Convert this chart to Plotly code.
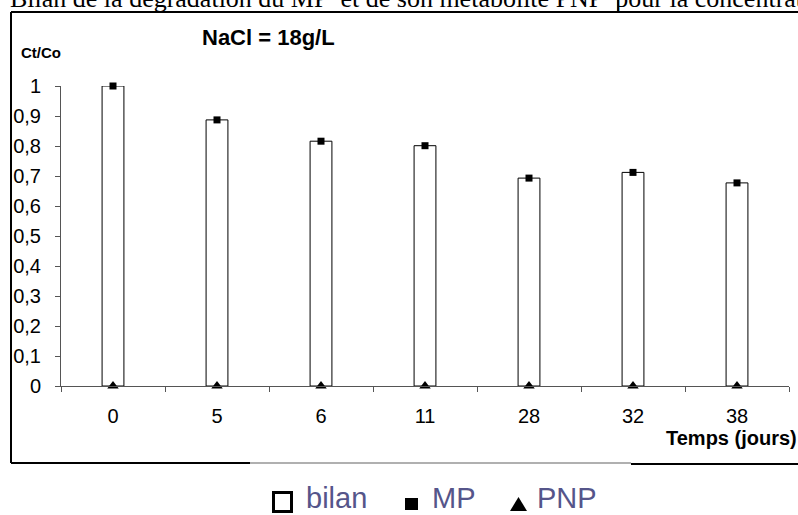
import plotly.graph_objects as go

# ---- data ----
temps = ["0", "5", "6", "11", "28", "32", "38"]
bilan = [1.0, 0.887, 0.816, 0.801, 0.693, 0.712, 0.677]
mp = [1.0, 0.887, 0.816, 0.801, 0.693, 0.712, 0.677]
pnp = [0, 0, 0, 0, 0, 0, 0]
y_ticks = [0, 0.1, 0.2, 0.3, 0.4, 0.5, 0.6, 0.7, 0.8, 0.9, 1]

W, H = 798, 515
L, R, T, B = 61, 9, 86, 129
PW, PH = W - L - R, H - T - B


def px(x):
    return (x - L) / PW


def py(y):
    return (H - B - y) / PH


fig = go.Figure()
fig.add_trace(go.Bar(
    x=temps, y=bilan, name="bilan", width=0.21,
    marker=dict(color="white", line=dict(color="black", width=1)),
    showlegend=False,
))
fig.add_trace(go.Scatter(
    x=temps, y=mp, name="MP", mode="markers",
    marker=dict(symbol="square", size=7, color="black"),
    cliponaxis=False, showlegend=False,
))
fig.add_trace(go.Scatter(
    x=temps, y=pnp, name="PNP", mode="markers",
    marker=dict(symbol="triangle-up", size=10, color="black"),
    cliponaxis=False, showlegend=False,
))

axis_col = "#555555"
tick_font = dict(family="Liberation Sans, Arial", size=20, color="black")

fig.update_xaxes(
    type="category", range=[-0.5, 6.5], showline=True, linecolor=axis_col,
    linewidth=1, ticks="outside", ticklen=5, tickcolor=axis_col,
    tickson="boundaries", tickfont=tick_font, ticklabelstandoff=12,
    showgrid=False, zeroline=False,
)
fig.update_yaxes(
    range=[0, 1], tickvals=y_ticks, showline=True, linecolor=axis_col,
    linewidth=1, ticks="outside", ticklen=5, tickcolor=axis_col,
    tickfont=tick_font, ticklabelstandoff=10, showgrid=False, zeroline=False,
)

shapes = []
# chart frame
shapes.append(dict(type="line", xref="paper", yref="paper", x0=px(11), x1=px(11),
                   y0=py(12), y1=py(463), line=dict(color="black", width=2)))
shapes.append(dict(type="line", xref="paper", yref="paper", x0=px(11), x1=px(800),
                   y0=py(12), y1=py(12), line=dict(color="black", width=2)))
shapes.append(dict(type="line", xref="paper", yref="paper", x0=px(11), x1=px(250),
                   y0=py(463), y1=py(463), line=dict(color="black", width=2)))
shapes.append(dict(type="line", xref="paper", yref="paper", x0=px(250), x1=px(631),
                   y0=py(463), y1=py(463), line=dict(color="#b0b0b0", width=2)))
shapes.append(dict(type="line", xref="paper", yref="paper", x0=px(631), x1=px(800),
                   y0=py(464), y1=py(464), line=dict(color="black", width=2)))
shapes.append(dict(type="line", xref="paper", yref="paper", x0=px(618), x1=px(618),
                   y0=py(-2), y1=py(12), line=dict(color="black", width=1.5)))
# legend symbols
shapes.append(dict(type="rect", xref="paper", yref="paper", x0=px(273.5), x1=px(291.5),
                   y0=py(492.5), y1=py(511.5), line=dict(color="black", width=3),
                   fillcolor="white"))
shapes.append(dict(type="rect", xref="paper", yref="paper", x0=px(405), x1=px(418),
                   y0=py(498), y1=py(510), line=dict(width=0), fillcolor="black"))
shapes.append(dict(type="path", xref="paper", yref="paper",
                   path="M %f,%f L %f,%f L %f,%f Z" % (px(510), py(511), px(527), py(511),
                                                      px(518.5), py(497)),
                   line=dict(width=0), fillcolor="black"))

leg_font = dict(family="Liberation Sans, Arial", size=29, color="#55558a")
annotations = [
    dict(text="Bilan de la dégradation du MP  et de son métabolite PNP  pour la concentration",
         xref="paper", yref="paper", x=px(8), y=py(-1), xanchor="left", yanchor="middle",
         showarrow=False, font=dict(family="Liberation Serif, Times New Roman", size=26,
                                    color="black")),
    dict(text="<b>NaCl = 18g/L</b>", xref="paper", yref="paper", x=px(268), y=py(37),
         xanchor="center", yanchor="middle", showarrow=False,
         font=dict(family="Liberation Sans, Arial", size=22, color="black")),
    dict(text="<b>Ct/Co</b>", xref="paper", yref="paper", x=px(19), y=py(53),
         xanchor="left", yanchor="middle", showarrow=False,
         font=dict(family="Liberation Sans, Arial", size=15, color="black")),
    dict(text="<b>Temps (jours)</b>", xref="paper", yref="paper", x=px(799), y=py(438),
         xanchor="right", yanchor="middle", showarrow=False,
         font=dict(family="Liberation Sans, Arial", size=20, color="black")),
    dict(text="bilan", xref="paper", yref="paper", x=px(304), y=py(498),
         xanchor="left", yanchor="middle", showarrow=False, font=leg_font),
    dict(text="MP", xref="paper", yref="paper", x=px(430), y=py(498),
         xanchor="left", yanchor="middle", showarrow=False, font=leg_font),
    dict(text="PNP", xref="paper", yref="paper", x=px(535), y=py(498),
         xanchor="left", yanchor="middle", showarrow=False, font=leg_font),
]

fig.update_layout(
    width=W, height=H, margin=dict(l=L, r=R, t=T, b=B, pad=0),
    paper_bgcolor="white", plot_bgcolor="white", separators=", ",
    shapes=shapes, annotations=annotations, showlegend=False,
    bargap=0.79,
)

fig.write_html("out.html")
